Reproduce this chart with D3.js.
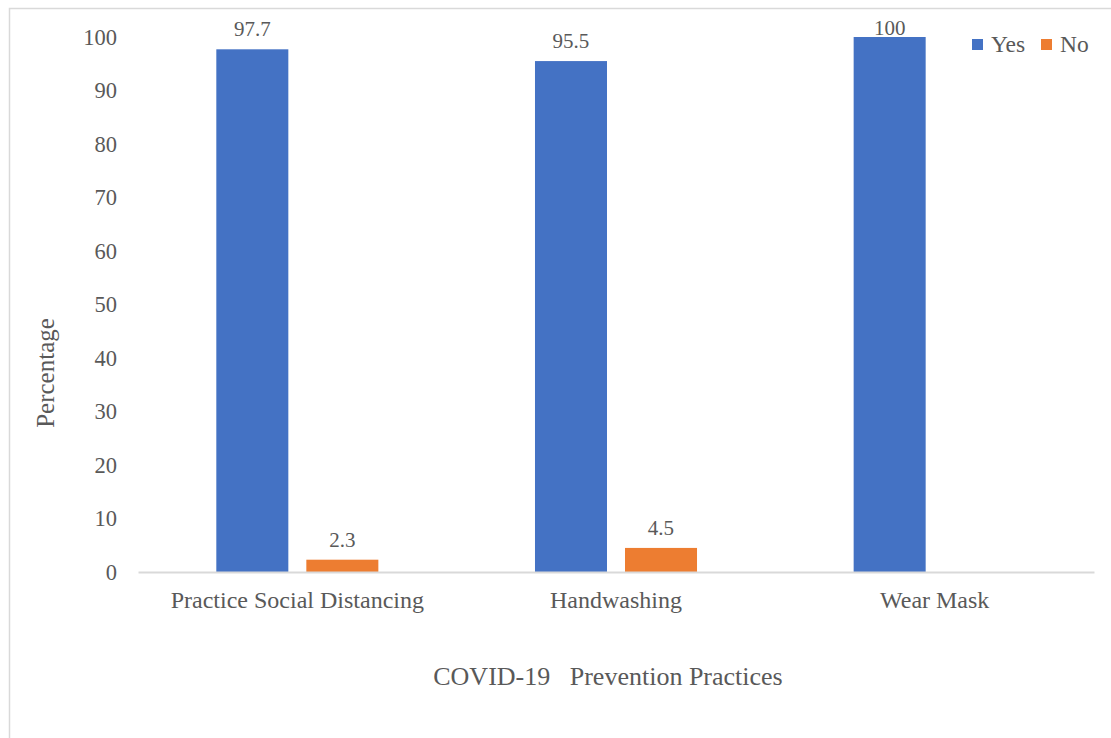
<!DOCTYPE html>
<html>
<head>
<meta charset="utf-8">
<script src="https://cdn.jsdelivr.net/npm/d3@7"></script>
<style>
  html, body { margin: 0; padding: 0; background: #fff; }
  svg { display: block; }
  text { font-family: "Liberation Serif", "Times New Roman", serif; fill: #595959; }
</style>
</head>
<body>
<svg id="chart" width="1111" height="738"></svg>
<script>
// Share of respondents following each COVID-19 prevention practice
const categories = ["Practice Social Distancing", "Handwashing", "Wear Mask"];
const seriesNames = ["Yes", "No"];
const yesValues = [97.7, 95.5, 100];
const noValues = [2.3, 4.5, null];
const yTicks = [0, 10, 20, 30, 40, 50, 60, 70, 80, 90, 100];
const colors = { Yes: "#4472C4", No: "#ED7D31" };

const svg = d3.select("#chart");
const W = 1111, H = 738;
const serif = '"Liberation Serif", "Times New Roman", serif';

// outer frame of the chart area
svg.append("rect")
  .attr("x", 9.5).attr("y", 8.5)
  .attr("width", W + 20).attr("height", H + 20)
  .attr("fill", "none").attr("stroke", "#d9d9d9").attr("stroke-width", 1.5);

const plot = { left: 138, right: 1094, top: 37, bottom: 572 };

const x0 = d3.scaleBand().domain(categories).range([plot.left, plot.right]).padding(0);
const x1 = d3.scaleBand().domain(seriesNames).range([0, x0.bandwidth()])
  .paddingInner(0.2).paddingOuter(0.87);
const y = d3.scaleLinear().domain([0, 100]).range([plot.bottom, plot.top]);

const rows = categories.map((c, i) => ({
  category: c,
  values: [
    { key: "Yes", value: yesValues[i] },
    { key: "No", value: noValues[i] }
  ].filter(d => d.value != null)
}));

// y axis: labels only, no line or ticks
const yAxis = svg.append("g")
  .attr("transform", `translate(${plot.left - 21},0)`)
  .call(d3.axisLeft(y).tickValues(yTicks).tickSize(0).tickPadding(0));
yAxis.select(".domain").remove();
yAxis.selectAll("text")
  .style("font-family", serif)
  .style("font-size", "22.5px")
  .attr("fill", "#595959");

// bars
const groups = svg.append("g").selectAll("g")
  .data(rows).join("g")
  .attr("transform", d => `translate(${x0(d.category)},0)`);

groups.selectAll("rect")
  .data(d => d.values).join("rect")
  .attr("x", d => x1(d.key))
  .attr("width", x1.bandwidth())
  .attr("y", d => y(d.value))
  .attr("height", d => y(0) - y(d.value))
  .attr("fill", d => colors[d.key]);

// value labels, kept inside the plot area at the top
groups.selectAll("text.val")
  .data(d => d.values).join("text")
  .attr("class", "val")
  .attr("x", d => x1(d.key) + x1.bandwidth() / 2)
  .attr("y", d => Math.max(y(d.value) - 13, 35))
  .attr("text-anchor", "middle")
  .style("font-size", "21px")
  .text(d => d.value);

// x axis line and category labels
const xAxis = svg.append("g")
  .attr("transform", `translate(0,${plot.bottom})`)
  .call(d3.axisBottom(x0).tickSize(0).tickPadding(19));
xAxis.select(".domain").attr("stroke", "#d9d9d9").attr("stroke-width", 2);
xAxis.selectAll("text")
  .style("font-family", serif)
  .style("font-size", "24px")
  .attr("fill", "#595959");

// axis titles
svg.append("text")
  .attr("transform", `translate(54,373) rotate(-90)`)
  .attr("text-anchor", "middle")
  .style("font-size", "25px")
  .text("Percentage");

svg.append("text")
  .attr("x", 608).attr("y", 685)
  .attr("text-anchor", "middle")
  .attr("xml:space", "preserve")
  .style("white-space", "pre")
  .style("font-size", "26px")
  .text("COVID-19   Prevention Practices");

// legend
const legend = svg.append("g").selectAll("g")
  .data(seriesNames).join("g")
  .attr("transform", (d, i) => `translate(${972 + i * 69},39)`);
legend.append("rect").attr("width", 11).attr("height", 11).attr("fill", d => colors[d]);
legend.append("text").attr("x", 19).attr("y", 13)
  .style("font-size", "23.5px").text(d => d);
</script>
</body>
</html>
